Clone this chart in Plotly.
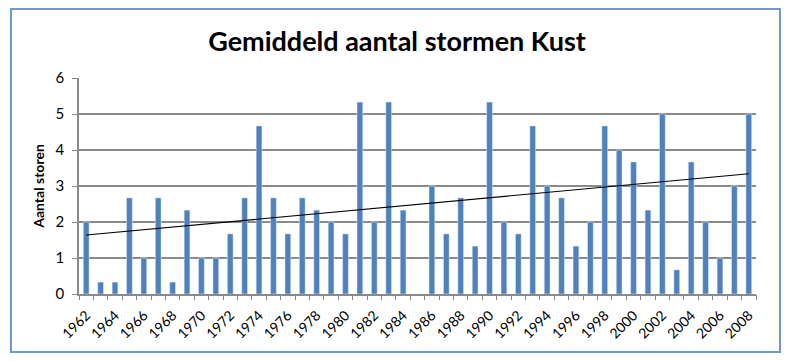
import numpy as np
import plotly.graph_objects as go

years = list(range(1962, 2009))
storms = [2, 0.33, 0.33, 2.67, 1, 2.67, 0.33, 2.33, 1, 1,
          1.67, 2.67, 4.67, 2.67, 1.67, 2.67, 2.33, 2, 1.67, 5.33,
          2, 5.33, 2.33, 0, 3, 1.67, 2.67, 1.33, 5.33, 2,
          1.67, 4.67, 3, 2.67, 1.33, 2, 4.67, 4, 3.67, 2.33,
          5, 0.67, 3.67, 2, 1, 3, 5]
tick_years = [y for y in years if y % 2 == 0]
tick_labels = [str(y) for y in tick_years]
y_ticks = [0, 1, 2, 3, 4, 5, 6]

title = "Gemiddeld aantal stormen Kust"
y_title = "Aantal storen"

# linear trend (Excel-style trendline)
coef = np.polyfit(years, storms, 1)
trend = np.polyval(coef, years)

bar_col = "#4F81BD"
grid_col = "#8A8A8A"
font = "Lato"

fig = go.Figure()
fig.add_trace(go.Bar(x=years, y=storms, marker_color=bar_col, width=0.4,
                     showlegend=False))
fig.add_trace(go.Scatter(x=years, y=trend, mode="lines",
                         line=dict(color="black", width=1.2), showlegend=False))
# invisible trace for boundary tick marks on overlay axis
bounds = [y - 0.5 for y in years] + [years[-1] + 0.5]
fig.add_trace(go.Scatter(x=bounds, y=[0] * len(bounds), xaxis="x2", mode="markers",
                         marker=dict(opacity=0), showlegend=False, hoverinfo="skip"))

xr = [years[0] - 0.5, years[-1] + 0.5]
fig.update_layout(
    width=794, height=362, autosize=False,
    margin=dict(l=79, r=38, t=78, b=68, autoexpand=False),
    paper_bgcolor="white", plot_bgcolor="white",
    title=dict(text="<b>" + title + "</b>", x=0.5, xanchor="center", y=0.885, yanchor="middle",
               font=dict(family=font, size=27, color="black")),
    xaxis=dict(range=xr, tickmode="array", tickvals=tick_years, ticktext=tick_labels,
               tickangle=-45, ticks="", showgrid=False, showline=True, automargin=False,
               linecolor=grid_col, linewidth=1.5, zeroline=False, ticklabelstandoff=6,
               tickfont=dict(family=font, size=14, color="black")),
    xaxis2=dict(range=xr, overlaying="x", tickmode="array", tickvals=bounds,
                showticklabels=False, ticks="outside", ticklen=5, tickwidth=1.2,
                tickcolor=grid_col, showgrid=False, showline=False, zeroline=False,
                side="bottom", anchor="y", automargin=False),
    yaxis=dict(range=[0, 6], tickmode="array", tickvals=y_ticks, automargin=False,
               ticks="outside", ticklen=5, tickcolor=grid_col, tickwidth=1.2,
               showgrid=True, gridcolor=grid_col, gridwidth=1.8, ticklabelstandoff=5,
               showline=True, linecolor=grid_col, linewidth=1.5, zeroline=False,
               tickfont=dict(family=font, size=15, color="black"),
               title=dict(text="<b>" + y_title + "</b>", standoff=8,
                          font=dict(family=font, size=14, color="black"))),
    bargap=0.5,
    shapes=[dict(type="rect", xref="paper", yref="paper",
                 x0=-68 / 677, x1=1 + 24 / 677, y0=-58 / 216, y1=1 + 69 / 216,
                 line=dict(color="#6F98D0", width=2), fillcolor="rgba(0,0,0,0)",
                 layer="below")],
)

fig.write_html("out.html", config={"displayModeBar": False},
               post_script="document.body.style.margin='0';document.body.style.overflow='hidden';")
